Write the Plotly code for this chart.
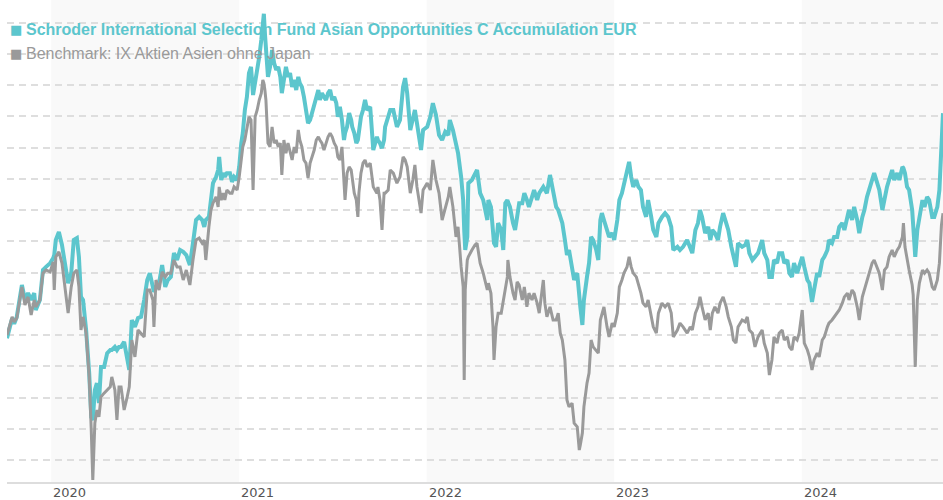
import pandas as pd
import plotly.graph_objects as go

# ---- data ----
start_date = "2019-10-07"
day_offsets = [
    0, 10, 14, 19, 29, 35, 41, 47, 53, 56, 64, 70, 76, 84, 90, 92, 95, 101, 107, 113,
    119, 125, 130, 136, 140, 144, 148, 154, 160, 164, 167, 171, 175, 179, 183, 189, 195, 201, 204, 210,
    214, 218, 222, 228, 234, 238, 243, 249, 255, 261, 267, 273, 278, 284, 286, 290, 296, 302, 308, 313,
    319, 325, 331, 337, 343, 349, 356, 362, 368, 374, 380, 384, 387, 393, 397, 401, 407, 411, 413, 417,
    421, 424, 428, 434, 438, 442, 448, 452, 456, 459, 463, 467, 471, 475, 479, 483, 487, 491, 495, 498,
    500, 502, 504, 508, 512, 516, 520, 524, 528, 532, 535, 539, 543, 547, 551, 555, 559, 563, 567, 570,
    574, 578, 582, 586, 590, 594, 598, 602, 606, 609, 613, 617, 621, 625, 629, 633, 637, 641, 644, 648,
    652, 656, 658, 662, 666, 670, 672, 676, 680, 683, 685, 689, 693, 697, 701, 707, 713, 720, 722, 726,
    730, 734, 736, 742, 746, 752, 759, 765, 771, 775, 779, 785, 790, 794, 798, 806, 810, 818, 824, 829,
    835, 841, 847, 853, 859, 862, 868, 874, 878, 884, 888, 890, 892, 896, 898, 905, 911, 915, 921, 927,
    935, 937, 942, 946, 948, 952, 956, 962, 966, 970, 974, 975, 979, 985, 989, 993, 997, 1003, 1007, 1012,
    1016, 1022, 1026, 1032, 1036, 1044, 1047, 1051, 1057, 1063, 1069, 1073, 1077, 1081, 1086, 1090, 1094, 1100, 1104, 1110,
    1114, 1116, 1120, 1123, 1129, 1133, 1137, 1141, 1147, 1151, 1155, 1158, 1162, 1168, 1172, 1178, 1182, 1188, 1192, 1197,
    1201, 1207, 1211, 1215, 1219, 1225, 1229, 1234, 1238, 1244, 1248, 1254, 1258, 1264, 1268, 1275, 1281, 1287, 1293, 1297,
    1305, 1310, 1316, 1324, 1330, 1334, 1340, 1345, 1349, 1353, 1359, 1365, 1369, 1373, 1378, 1384, 1388, 1394, 1400, 1404,
    1410, 1414, 1419, 1423, 1431, 1437, 1441, 1445, 1451, 1456, 1462, 1470, 1474, 1480, 1484, 1489, 1493, 1499, 1503, 1509,
    1513, 1519, 1523, 1528, 1532, 1538, 1542, 1548, 1552, 1558, 1562, 1567, 1571, 1577, 1581, 1587, 1591, 1597, 1600, 1606,
    1610, 1616, 1620, 1626, 1630, 1636, 1639, 1645, 1649, 1655, 1659, 1665, 1669, 1674, 1678, 1684, 1688, 1694, 1698, 1704,
    1708, 1713, 1717, 1723, 1727, 1733, 1737, 1743, 1745, 1748, 1752, 1756, 1762, 1764, 1768, 1772, 1776, 1782, 1786, 1791,
    1795, 1801, 1805, 1811, 1815, 1819, 1822,
]

fund_values = [
    99.5, 102.7, 101.8, 102.9, 108.0, 105.6, 106.7, 105.6, 106.7, 104.0, 105.6, 110.4, 110.9, 111.5, 112.3, 112.8, 115.2, 116.5, 114.4, 111.2,
    108.3, 109.9, 115.2, 115.5, 112.5, 106.1, 105.6, 100.8, 93.9, 86.9, 86.4, 91.2, 92.3, 89.1, 94.9, 94.9, 97.1, 97.6, 97.6, 98.1,
    97.6, 98.1, 98.1, 98.9, 96.0, 94.4, 102.4, 101.3, 102.7, 102.9, 105.6, 108.8, 109.9, 107.2, 106.9, 107.7, 108.3, 111.2, 107.7, 108.8,
    109.3, 113.1, 112.0, 113.6, 113.3, 112.8, 111.2, 114.7, 118.4, 118.9, 118.4, 117.3, 118.4, 118.9, 121.6, 124.3, 125.3, 126.4, 128.5, 124.8,
    125.9, 125.3, 125.9, 125.9, 124.5, 125.3, 124.8, 126.9, 130.7, 132.3, 136.0, 138.1, 141.9, 142.9, 138.4, 140.3, 142.9, 144.5, 147.2, 150.4,
    151.4, 148.3, 145.6, 141.3, 142.9, 145.6, 143.5, 142.4, 142.9, 141.3, 138.7, 141.3, 142.9, 141.3, 141.9, 139.7, 140.8, 139.2, 141.3, 140.3,
    139.7, 138.1, 136.0, 133.9, 134.4, 135.5, 136.5, 138.1, 139.2, 137.6, 138.7, 138.1, 137.6, 138.7, 139.2, 137.6, 138.1, 137.1, 134.9, 136.5,
    134.4, 131.2, 132.3, 133.3, 135.5, 134.4, 133.3, 132.3, 130.7, 131.2, 132.3, 134.9, 136.0, 137.6, 136.0, 136.5, 129.6, 131.7, 131.2, 130.7,
    129.9, 131.2, 133.3, 134.9, 136.0, 136.0, 133.3, 134.4, 139.7, 141.1, 138.7, 132.8, 134.4, 136.0, 133.9, 129.6, 132.8, 133.3, 134.9, 137.1,
    135.2, 132.0, 131.2, 132.5, 132.0, 134.4, 132.8, 130.1, 129.1, 125.3, 121.6, 116.8, 113.6, 115.7, 124.3, 124.8, 125.9, 126.4, 122.7, 121.6,
    118.4, 121.6, 120.5, 115.7, 114.7, 114.1, 117.9, 116.8, 113.6, 121.1, 121.6, 121.3, 120.5, 117.9, 116.8, 118.9, 121.1, 121.1, 122.7, 121.6,
    120.5, 122.1, 123.2, 121.6, 122.7, 123.7, 123.2, 122.7, 125.6, 122.7, 120.5, 120.0, 118.9, 117.9, 115.2, 112.8, 113.6, 110.9, 108.8, 109.9,
    105.6, 104.5, 101.6, 105.6, 109.3, 111.5, 115.7, 115.2, 113.6, 112.0, 118.4, 119.5, 118.4, 116.8, 115.7, 116.3, 115.2, 118.4, 121.6, 122.7,
    124.3, 125.9, 127.7, 125.3, 123.7, 124.8, 123.7, 123.2, 120.5, 118.9, 121.6, 118.9, 116.8, 115.7, 117.9, 118.9, 119.5, 118.9, 117.3, 113.6,
    114.1, 113.6, 114.1, 115.2, 114.1, 113.1, 116.8, 117.9, 120.0, 118.9, 116.3, 117.3, 115.2, 116.8, 116.3, 115.2, 117.3, 119.5, 117.9, 116.8,
    114.1, 112.5, 110.9, 114.7, 114.1, 114.4, 115.2, 113.1, 112.0, 112.5, 113.1, 115.2, 113.1, 112.0, 109.3, 109.3, 112.0, 111.5, 113.1, 113.1,
    111.5, 112.0, 109.9, 109.3, 111.5, 109.9, 110.9, 112.5, 110.9, 108.8, 108.3, 105.3, 107.2, 109.9, 109.3, 112.0, 112.5, 113.6, 115.2, 114.7,
    115.7, 115.7, 117.3, 117.9, 116.8, 118.9, 120.0, 118.4, 120.5, 118.4, 116.3, 118.9, 120.0, 122.1, 123.2, 124.3, 125.9, 124.3, 123.2, 120.0,
    122.1, 123.7, 124.8, 126.4, 124.8, 125.9, 124.8, 126.9, 126.7, 125.9, 123.7, 123.2, 120.0, 117.9, 112.5, 116.8, 118.9, 121.6, 120.5, 122.1,
    121.6, 118.9, 118.9, 120.5, 123.2, 129.6, 135.5,
]

benchmark_values = [
    100.0, 102.9, 102.1, 102.7, 107.7, 104.8, 106.1, 103.2, 105.6, 104.5, 105.6, 109.9, 110.4, 110.1, 111.7, 107.2, 112.5, 113.3, 111.5, 107.2,
    103.5, 107.7, 109.9, 110.4, 107.7, 100.8, 102.9, 100.3, 93.3, 84.8, 76.8, 85.9, 88.0, 86.9, 90.1, 90.7, 91.2, 91.7, 93.3, 91.2,
    86.4, 91.7, 91.7, 88.0, 90.1, 91.7, 99.2, 96.5, 100.8, 100.3, 99.7, 107.2, 107.2, 105.6, 101.3, 108.8, 107.2, 110.1, 109.3, 109.9,
    109.9, 112.0, 110.9, 110.9, 108.8, 110.4, 108.0, 112.0, 115.2, 115.5, 114.7, 115.2, 112.0, 117.3, 120.0, 121.1, 122.1, 120.5, 123.7, 121.6,
    122.7, 121.6, 123.2, 122.7, 122.7, 123.7, 123.2, 125.3, 128.5, 130.1, 131.2, 132.8, 134.9, 134.4, 123.2, 134.9, 136.0, 137.6, 138.7, 140.8,
    140.3, 139.2, 137.6, 130.7, 130.1, 133.3, 130.7, 131.2, 130.1, 130.7, 125.6, 131.2, 129.1, 130.7, 129.1, 128.0, 130.1, 129.1, 132.8, 131.2,
    130.1, 128.0, 127.5, 125.1, 127.5, 128.5, 129.6, 131.2, 131.7, 131.2, 130.7, 129.6, 130.7, 131.7, 132.3, 131.7, 130.7, 130.1, 128.5, 128.0,
    130.1, 124.3, 121.6, 125.9, 126.9, 126.4, 124.8, 122.7, 121.6, 118.9, 122.7, 125.9, 127.5, 128.0, 126.9, 127.5, 123.7, 122.7, 123.7, 121.6,
    116.8, 122.7, 122.7, 123.2, 126.4, 125.9, 124.3, 125.3, 128.5, 128.0, 126.9, 122.7, 124.8, 127.2, 123.7, 119.5, 123.2, 124.3, 123.2, 128.0,
    124.8, 122.7, 118.4, 120.5, 122.1, 123.7, 120.5, 115.7, 117.3, 110.9, 107.7, 92.8, 107.2, 112.0, 112.5, 113.6, 114.4, 114.7, 111.5, 109.9,
    107.2, 108.3, 106.7, 101.3, 96.0, 101.3, 103.5, 103.5, 105.6, 107.7, 109.3, 112.0, 109.3, 106.7, 105.6, 108.5, 108.0, 105.6, 107.7, 104.5,
    106.7, 105.6, 106.7, 105.1, 103.5, 108.8, 105.1, 102.9, 104.5, 102.4, 102.4, 103.5, 100.3, 99.2, 96.0, 89.6, 88.5, 89.1, 85.9, 85.3,
    81.6, 82.4, 84.3, 88.5, 92.3, 93.9, 99.2, 98.1, 97.6, 97.1, 102.4, 103.5, 104.5, 101.3, 99.7, 101.9, 101.3, 103.5, 107.7, 108.8,
    109.9, 110.9, 112.5, 110.9, 109.9, 109.3, 108.3, 106.7, 105.1, 104.5, 105.6, 102.9, 101.3, 100.3, 103.5, 105.1, 104.5, 105.1, 103.5, 99.7,
    100.8, 101.9, 101.3, 100.3, 101.3, 100.8, 103.5, 104.5, 106.1, 104.5, 102.4, 103.5, 100.8, 103.5, 104.5, 103.5, 105.1, 106.1, 104.5, 102.9,
    101.3, 99.2, 98.7, 101.3, 102.4, 102.1, 102.9, 100.8, 100.3, 98.1, 99.7, 100.8, 98.7, 97.1, 93.6, 96.0, 99.7, 98.7, 100.3, 100.8,
    99.2, 99.7, 98.1, 97.6, 99.7, 99.2, 100.3, 104.0, 98.7, 97.6, 96.5, 94.4, 96.0, 97.1, 96.5, 99.2, 99.7, 101.3, 101.9, 102.4,
    102.9, 103.5, 104.0, 105.1, 106.1, 106.7, 105.6, 107.2, 106.7, 104.5, 102.4, 106.1, 107.2, 108.8, 109.9, 111.5, 112.0, 110.9, 109.9, 107.2,
    110.4, 110.9, 112.5, 113.6, 112.5, 113.6, 114.1, 115.7, 117.9, 114.1, 112.0, 110.4, 108.0, 106.4, 94.9, 105.6, 108.3, 110.4, 109.9, 110.4,
    109.9, 107.7, 107.2, 108.8, 111.5, 117.6, 119.5,
]

years = ["2020", "2021", "2022", "2023", "2024"]
shaded_years = ["2020", "2022", "2024"]
fund_name = "Schroder International Selection Fund Asian Opportunities C Accumulation EUR"
bench_name = "Benchmark: IX Aktien Asien ohne Japan"

FUND_COLOR = "#5cc6cd"
BENCH_COLOR = "#9a9a9a"

dates = pd.Timestamp(start_date) + pd.to_timedelta(day_offsets, unit="D")

fig = go.Figure()
fig.add_trace(go.Scatter(x=dates, y=fund_values, mode="lines", name=fund_name,
                         line=dict(color=FUND_COLOR, width=4), showlegend=False))
fig.add_trace(go.Scatter(x=dates, y=benchmark_values, mode="lines", name=bench_name,
                         line=dict(color=BENCH_COLOR, width=3), showlegend=False))

for y in shaded_years:
    fig.add_shape(type="rect", xref="x", yref="paper",
                  x0=f"{y}-01-01", x1=f"{int(y) + 1}-01-01", y0=0, y1=1,
                  fillcolor="rgba(240,240,240,0.42)", line=dict(width=0), layer="between")

annotations = []
for y in years:
    annotations.append(dict(x=f"{y}-01-01", y=0, xref="x", yref="paper",
                            text=y, showarrow=False, xanchor="left", yanchor="top",
                            yshift=-1, xshift=0,
                            font=dict(family="DejaVu Sans", size=13, color="#555555")))

legend_items = [(fund_name, FUND_COLOR, True, -19), (bench_name, BENCH_COLOR, False, -43)]
for name, color, bold, shift in legend_items:
    annotations.append(dict(x=0, y=1, xref="paper", yref="paper", xanchor="left", yanchor="top",
                            xshift=1, yshift=shift - 1, showarrow=False, text="■",
                            font=dict(family="DejaVu Sans", size=13, color=color)))
    annotations.append(dict(x=0, y=1, xref="paper", yref="paper", xanchor="left", yanchor="top",
                            xshift=17, yshift=shift, showarrow=False,
                            text=f"<b>{name}</b>" if bold else name,
                            font=dict(family="Liberation Sans, Arial", size=16, color=color)))

fig.update_layout(
    width=943, height=500,
    margin=dict(l=7, r=0, t=0, b=18),
    plot_bgcolor="white", paper_bgcolor="white",
    annotations=annotations,
    xaxis=dict(range=[dates[0], dates[-1]], showgrid=False, showticklabels=False,
               zeroline=False, showline=True, linecolor="#dddddd", linewidth=2, ticks=""),
    yaxis=dict(range=[76.48, 153.6], dtick=5, tick0=80, showgrid=True,
               gridcolor="#dedede", griddash="7px,5px", gridwidth=1.5,
               showticklabels=False, zeroline=False, showline=False),
)

fig.write_html("out.html")
